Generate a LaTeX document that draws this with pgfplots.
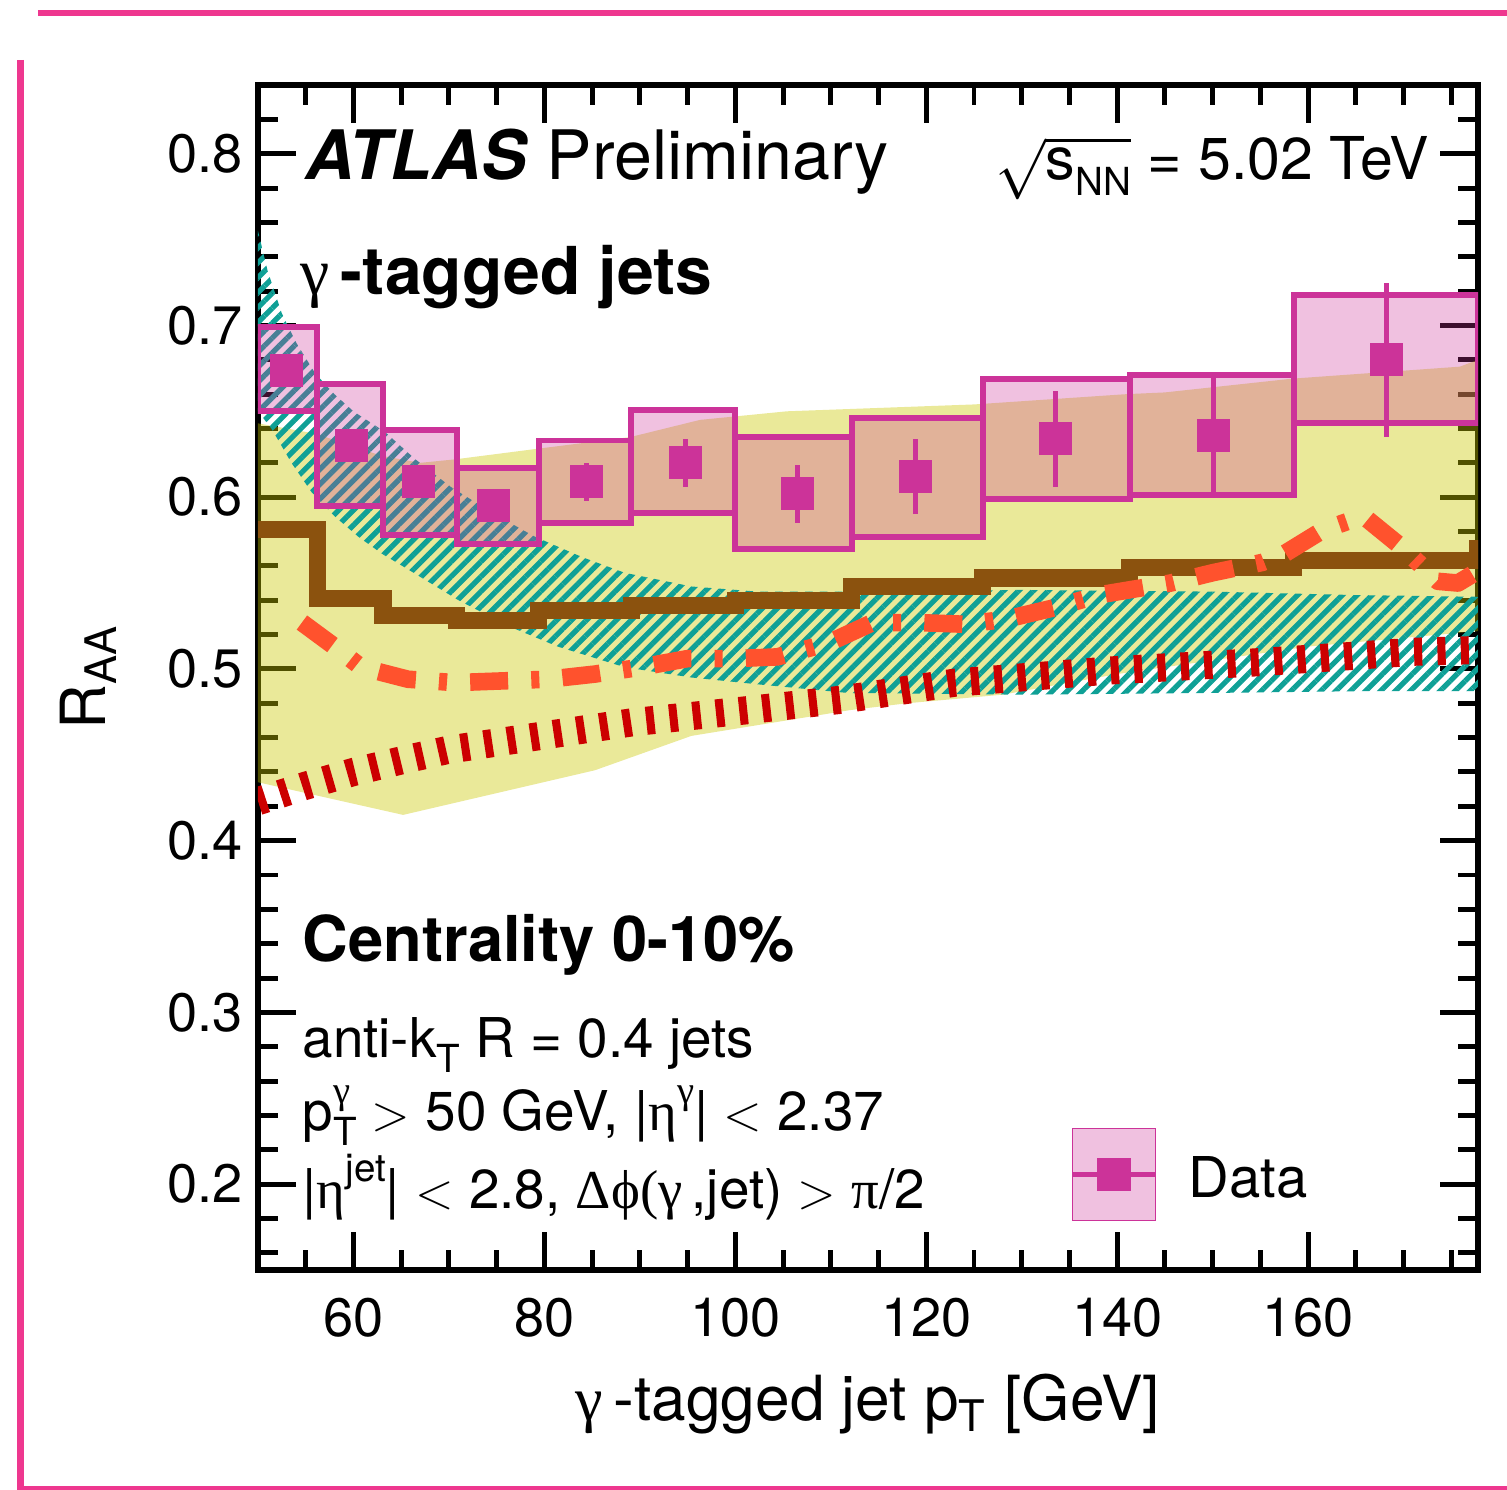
\documentclass[border=0pt]{standalone}
\usepackage{fontspec}
\setmainfont{TeX Gyre Heros}
\newfontfamily\gr{Liberation Serif}
\usepackage{pgfplots}
\pgfplotsset{compat=1.18}
\usetikzlibrary{patterns.meta}

\definecolor{mag}{RGB}{204,51,153}
\definecolor{yel}{RGB}{202,200,0}
\definecolor{tealc}{RGB}{15,160,150}
\definecolor{brn}{RGB}{139,82,14}
\definecolor{orng}{RGB}{255,82,45}
\definecolor{rd}{RGB}{204,0,0}
\definecolor{framec}{RGB}{238,55,143}

\newcommand\fA{\fontsize{19.4}{22}\selectfont}
\newcommand\fG{\fontsize{18.8}{22}\selectfont}
\newcommand\fS{\fontsize{16.8}{20}\selectfont}
\newcommand\fC{\fontsize{18.0}{21}\selectfont}
\newcommand\fB{\fontsize{15.6}{18}\selectfont}
\newcommand\fT{\fontsize{15.4}{18}\selectfont}
\newcommand\fL{\fontsize{17.7}{21}\selectfont}
\newcommand\fD{\fontsize{16}{19}\selectfont}
% ROOT-like sub- and superscripts
\newcommand\dn[1]{\raisebox{-4.4pt}{\fontsize{11}{11}\selectfont #1}}
\newcommand\up[1]{\raisebox{7.5pt}{\fontsize{11}{11}\selectfont #1}}

% systematic box: xlo xhi ylo yhi
\newcommand\sysbox[4]{\addplot[draw=mag, line width=1.7pt, fill=mag, fill opacity=0.3, forget plot]
  coordinates {(#1,#3) (#2,#3) (#2,#4) (#1,#4)} -- cycle;}

\begin{document}
\begin{tikzpicture}
\begin{axis}[
  scale only axis,
  width=12.2cm, height=11.85cm,
  xmin=50, xmax=177.8, ymin=0.15, ymax=0.84,
  xtick={60,80,100,120,140,160},
  minor xtick={50,55,65,70,75,85,90,95,105,110,115,125,130,135,145,150,155,165,170,175},
  ytick={0.2,0.3,0.4,0.5,0.6,0.7,0.8},
  minor ytick={0.16,0.18,0.22,0.24,0.26,0.28,0.32,0.34,0.36,0.38,0.42,0.44,0.46,0.48,
               0.52,0.54,0.56,0.58,0.62,0.64,0.66,0.68,0.72,0.74,0.76,0.78,0.82},
  major tick length=0.38cm, minor tick length=0.2cm,
  every tick/.style={black, line width=1.4pt},
  axis line style={line width=1.7pt},
  tick align=inside,
  /pgf/number format/assume math mode=true,
  yticklabel style={font=\fT, anchor=east, inner sep=0pt, xshift=-0.15cm,
    /pgf/number format/.cd, fixed, fixed zerofill, precision=1},
  xticklabel style={font=\fT, anchor=north, inner sep=0pt, yshift=-0.27cm},
  xlabel={{\gr γ}\,-tagged jet p\textsubscript{T} [GeV]},
  ylabel={R\textsubscript{AA}},
  xlabel style={font=\fL, at={(axis description cs:0.5,-0.127)}, anchor=base, inner sep=0pt},
  ylabel style={font=\fL, at={(axis description cs:-0.125,0.5)}, anchor=base, inner sep=0pt},
  legend style={at={(axis description cs:0.6656,0.1198)}, anchor=north west,
    draw=none, fill=none, inner sep=0pt, outer sep=0pt,
    nodes={inner sep=0pt}},
]

% yellow band
\addplot[fill=yel, fill opacity=0.4, draw=none, forget plot] coordinates {
  (50,0.643) (56,0.637) (63,0.624) (67,0.620) (70.6,0.622) (79,0.628) (89,0.635)
  (96.3,0.645) (105.4,0.650) (125,0.654) (141,0.660) (145,0.661) (158.3,0.669)
  (175.9,0.676) (177.8,0.680)
  (177.8,0.522) (160,0.513) (140,0.497) (128,0.485) (118,0.480) (112,0.476)
  (95.4,0.461) (85.3,0.441) (65.2,0.415) (50,0.434)
} -- cycle;

% hatched band
\addplot[draw=none, pattern={Lines[angle=45,distance=3pt,line width=1.5pt]},
  pattern color=tealc, fill opacity=0.8, forget plot] coordinates {
  (50,0.755) (51,0.732) (52.5,0.707) (54,0.690) (56,0.672) (58,0.660) (60,0.650)
  (63.3,0.638) (66.5,0.622) (70.2,0.606) (74.5,0.591) (79,0.577) (84,0.565)
  (88.4,0.556) (95.4,0.548) (102.4,0.545) (115,0.545) (130,0.546) (150,0.545)
  (165,0.543) (177.8,0.542)
  (177.8,0.487) (165,0.487) (150,0.486) (130,0.485) (111.8,0.486) (102.4,0.491)
  (95.4,0.495) (88.4,0.501) (81.4,0.513) (76.2,0.525) (71,0.540) (65.7,0.558)
  (63,0.567) (60.5,0.577) (58,0.589) (55.6,0.603) (53.5,0.620) (51.4,0.640) (50,0.650)
} -- cycle;

% systematic uncertainties of the data
\sysbox{50}{56.2}{0.650}{0.699}
\sysbox{56.2}{63.1}{0.595}{0.666}
\sysbox{63.1}{70.8}{0.578}{0.639}
\sysbox{70.8}{79.4}{0.573}{0.617}
\sysbox{79.4}{89.1}{0.585}{0.633}
\sysbox{89.1}{100}{0.591}{0.651}
\sysbox{100}{112.2}{0.570}{0.635}
\sysbox{112.2}{125.9}{0.577}{0.646}
\sysbox{125.9}{141.3}{0.599}{0.669}
\sysbox{141.3}{158.5}{0.601}{0.671}
\sysbox{158.5}{177.8}{0.643}{0.718}

% brown step curve
\addplot[brn, line width=4.9pt, const plot, forget plot] coordinates {
  (50,0.581) (56.2,0.541) (63.1,0.531) (70.8,0.528) (79.4,0.534) (89.1,0.537)
  (100,0.540) (112.2,0.548) (125.9,0.553) (141.3,0.559) (158.5,0.563) (177.8,0.575)
};

% orange dash-dotted curve
\addplot[orng, line width=5pt, line join=round,
  dash pattern=on 10.8pt off 6.6pt on 2.3pt off 6.6pt, forget plot] coordinates {
  (54.6,0.527) (58.5,0.511) (60.8,0.501) (65.7,0.494) (70.6,0.492) (75.5,0.493)
  (80.4,0.494) (85.3,0.497) (90.1,0.501) (95,0.506) (99.9,0.506) (104.4,0.507)
  (109.7,0.515) (114.4,0.527) (119,0.527) (124.1,0.526) (128.4,0.529) (133.7,0.536)
  (138,0.543) (145.6,0.550) (150,0.556) (155.2,0.562) (157.5,0.567) (161.6,0.581)
  (165.8,0.589) (170,0.570) (173.6,0.551) (175.7,0.550) (177.5,0.556)
};

% red dotted curve
\addplot[rd, line width=8pt, dash pattern=on 2.3pt off 4.35pt, forget plot] coordinates {
  (50,0.423) (55,0.432) (60,0.440) (65.2,0.447) (70,0.453) (77.2,0.459) (89.3,0.469)
  (101.3,0.476) (111,0.482) (123,0.492) (139,0.499) (155.1,0.504) (171.1,0.510)
  (177.8,0.511)
};

% data
\addplot[mag, only marks, mark=square*, mark size=4.55pt,
  mark options={solid, line width=0pt},
  error bars/.cd, y dir=both, y explicit, error mark=none,
  error bar style={line width=1.4pt},
  /pgfplots/legend image code/.code={
    \fill[mag, fill opacity=0.3] (0cm,0cm) rectangle (0.83cm,0.92cm);
    \draw[mag, line width=1.4pt] (0cm,0.46cm) -- (0.83cm,0.46cm);
    \fill[mag] (0.25cm,0.30cm) rectangle (0.58cm,0.62cm);
  }]
  table[x=x, y=y, y error=e] {
  x     y     e
  53.0  0.674 0.004
  59.8  0.630 0.005
  66.8  0.609 0.006
  74.7  0.595 0.007
  84.4  0.609 0.011
  94.8  0.620 0.014
  106.5 0.602 0.017
  118.9 0.612 0.022
  133.5 0.634 0.028
  150.1 0.636 0.034
  168.2 0.680 0.045
};
\addlegendentry{}

% labels
\node[anchor=base west, inner sep=0pt] at (rel axis cs:0.7623,0.0608) {\fD Data};
\node[anchor=base west, inner sep=0pt] at (rel axis cs:0.0385,0.920)
  {\fA\textbf{\textit{ATLAS}} Preliminary};
\node[anchor=base east, inner sep=0pt] at (rel axis cs:0.9607,0.920)
  {\fS$\sqrt{\mbox{s\dn{NN}}}$ = 5.02 TeV};
\node[anchor=base west, inner sep=0pt] at (rel axis cs:0.0344,0.8228)
  {\fG{\gr γ}\,\textbf{-tagged jets}};
\node[anchor=base west, inner sep=0pt] at (rel axis cs:0.036,0.260)
  {\fC\textbf{Centrality 0-10\%}};
\node[anchor=base west, inner sep=0pt] at (rel axis cs:0.036,0.1797)
  {\fB anti-k\dn{T} R = 0.4 jets};
\node[anchor=base west, inner sep=0pt] at (rel axis cs:0.036,0.118)
  {\fB p\rlap{\up{\gr γ}}\dn{T} $>$ 50 GeV, |{\gr η}\up{\gr γ}| $<$ 2.37};
\node[anchor=base west, inner sep=0pt] at (rel axis cs:0.036,0.0523)
  {\fB |{\gr η}\up{jet}| $<$ 2.8, {\gr Δϕ(γ}\,,jet) $>$ {\gr π}/2};
\end{axis}

% slide frame
\draw[framec, line width=0.06cm] (-2.20,12.57) -- (12.49,12.57);
\draw[framec, line width=0.07cm] (-2.37,12.10) -- (-2.37,-2.20);
\draw[framec, line width=0.04cm] (-2.37,-2.18) -- (12.49,-2.18);

\pgfresetboundingbox
\path (-2.58,-2.20) rectangle (12.49,12.70);
\end{tikzpicture}
\end{document}
